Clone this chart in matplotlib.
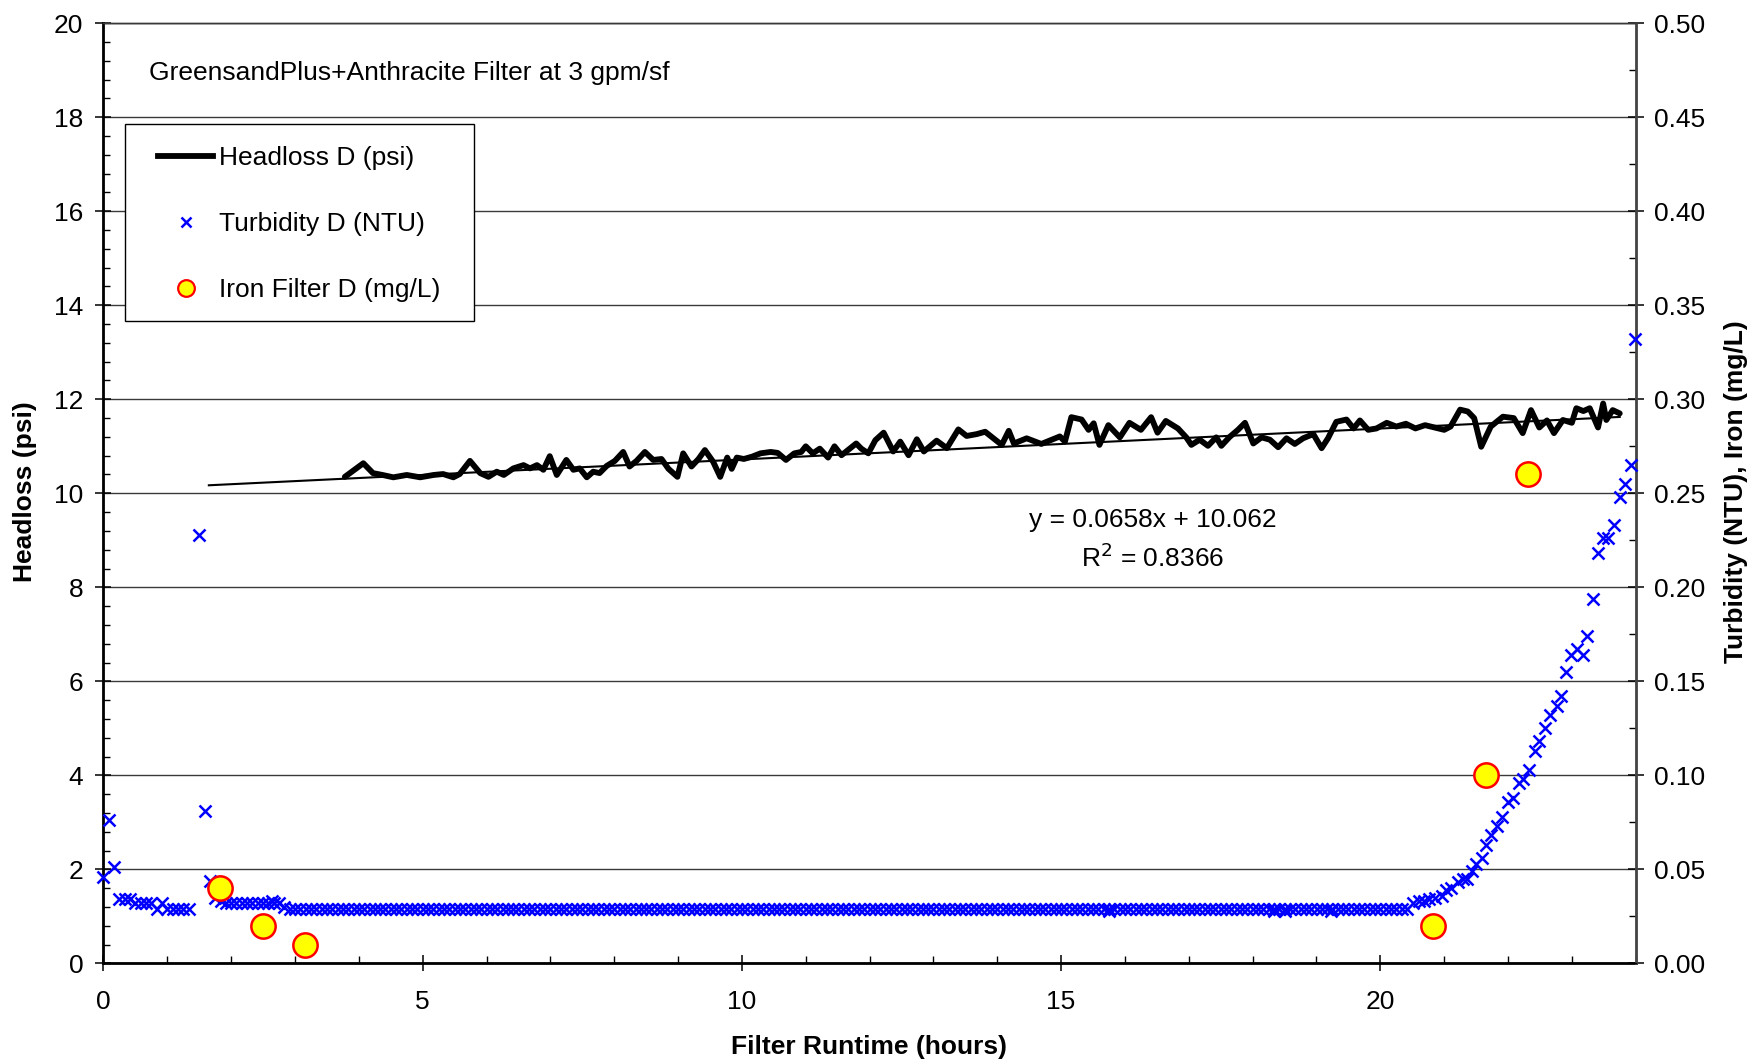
import numpy as np
import matplotlib
matplotlib.use("Agg")
import matplotlib.pyplot as plt
from matplotlib.ticker import MultipleLocator, FormatStrFormatter
from matplotlib.lines import Line2D
from matplotlib.patches import Rectangle

plt.rcParams['font.family'] = ['Liberation Sans', 'DejaVu Sans']

# ---------------- data ----------------
# Headloss D (psi) vs filter runtime (hours)
headloss_t = [3.78, 4.07, 4.22, 4.37, 4.54, 4.75, 4.96, 5.17, 5.32, 5.48, 5.58, 5.74, 5.90, 6.03,
              6.16, 6.27, 6.42, 6.58, 6.68, 6.79, 6.89, 6.99, 7.10, 7.25, 7.36, 7.46, 7.57, 7.67,
              7.77, 7.88, 8.01, 8.14, 8.24, 8.35, 8.48, 8.61, 8.74, 8.85, 8.99, 9.08, 9.21, 9.32,
              9.42, 9.55, 9.66, 9.77, 9.84, 9.92, 10.03, 10.16, 10.29, 10.45, 10.56, 10.69, 10.82,
              10.93, 11.00, 11.11, 11.22, 11.35, 11.45, 11.56, 11.69, 11.79, 11.87, 11.98, 12.09,
              12.22, 12.37, 12.48, 12.61, 12.74, 12.85, 13.05, 13.21, 13.39, 13.52, 13.68, 13.81,
              13.94, 14.07, 14.18, 14.26, 14.46, 14.69, 14.98, 15.06, 15.16, 15.32, 15.43, 15.51,
              15.60, 15.74, 15.92, 16.07, 16.25, 16.41, 16.51, 16.64, 16.83, 16.96, 17.04, 17.17,
              17.30, 17.43, 17.51, 17.64, 17.77, 17.88, 18.01, 18.14, 18.27, 18.40, 18.53, 18.66,
              18.79, 18.95, 19.08, 19.18, 19.31, 19.47, 19.58, 19.68, 19.81, 19.94, 20.10, 20.25,
              20.40, 20.55, 20.70, 20.85, 21.00, 21.10, 21.25, 21.37, 21.47, 21.58, 21.73, 21.92,
              22.09, 22.23, 22.36, 22.49, 22.61, 22.72, 22.86, 23.00, 23.07, 23.18, 23.28, 23.41,
              23.49, 23.54, 23.64, 23.75]
headloss_v = [10.35, 10.64, 10.43, 10.39, 10.34, 10.39, 10.34, 10.39, 10.41, 10.34, 10.41, 10.69, 10.43, 10.35,
              10.46, 10.39, 10.53, 10.60, 10.53, 10.60, 10.50, 10.79, 10.39, 10.71, 10.50, 10.53, 10.34, 10.46,
              10.43, 10.58, 10.69, 10.88, 10.57, 10.69, 10.88, 10.71, 10.73, 10.52, 10.35, 10.85, 10.57, 10.73,
              10.92, 10.67, 10.35, 10.76, 10.52, 10.76, 10.73, 10.78, 10.85, 10.88, 10.86, 10.71, 10.85,
              10.88, 11.00, 10.85, 10.95, 10.76, 11.00, 10.81, 10.95, 11.06, 10.95, 10.85, 11.13,
              11.29, 10.89, 11.10, 10.81, 11.15, 10.89, 11.12, 10.96, 11.36, 11.22, 11.26, 11.31,
              11.17, 11.03, 11.33, 11.06, 11.17, 11.05, 11.21, 11.10, 11.62, 11.57, 11.35, 11.49,
              11.03, 11.45, 11.19, 11.50, 11.35, 11.62, 11.29, 11.54, 11.38, 11.19, 11.03, 11.14,
              11.01, 11.19, 11.01, 11.20, 11.35, 11.50, 11.06, 11.19, 11.14, 10.98, 11.17, 11.05,
              11.17, 11.26, 10.96, 11.17, 11.52, 11.57, 11.38, 11.55, 11.35, 11.38, 11.50, 11.42,
              11.48, 11.38, 11.45, 11.40, 11.35, 11.42, 11.78, 11.74, 11.60, 10.99, 11.42, 11.63,
              11.60, 11.28, 11.77, 11.40, 11.55, 11.28, 11.56, 11.50, 11.81, 11.75, 11.81, 11.40,
              11.91, 11.56, 11.77, 11.70]

# Linear trendline of headloss (from the chart's equation)
trend_slope = 0.0658
trend_intercept = 10.062
trend_range = [1.65, 23.75]

# Turbidity D (NTU), logged every 5 minutes
log_interval_h = 5 / 60
turb_start_t = [0.000, 0.083, 0.167, 0.250, 0.333, 0.417, 0.500, 0.583, 0.667, 0.750, 0.833, 0.917,
                1.000, 1.083, 1.167, 1.250, 1.333,
                1.500, 1.583, 1.667, 1.750, 1.833, 1.917, 2.000, 2.083, 2.167, 2.250, 2.333, 2.417,
                2.500, 2.583, 2.640, 2.667, 2.750, 2.833]
turb_start_v = [0.046, 0.076, 0.051, 0.034, 0.034, 0.034, 0.032, 0.032, 0.032, 0.032, 0.029, 0.032,
                0.029, 0.029, 0.029, 0.029, 0.029,
                0.228, 0.081, 0.044, 0.035, 0.033, 0.032, 0.032, 0.032, 0.032, 0.032, 0.032, 0.032,
                0.032, 0.032, 0.033, 0.032, 0.032, 0.030]
turb_flat_from = 2.917
turb_flat_to = 20.43
turb_flat_level = 0.029
turb_low_t = [15.75, 18.33, 18.50, 19.23]
turb_low_v = [0.028, 0.028, 0.028, 0.028]
turb_rise_t = [20.51, 20.60, 20.69, 20.77, 20.85, 20.96, 21.03, 21.11, 21.22, 21.29, 21.36, 21.43,
               21.50, 21.59, 21.66, 21.74, 21.82, 21.90, 22.00, 22.08, 22.17, 22.23, 22.33, 22.42,
               22.49, 22.58, 22.66, 22.76, 22.83, 22.91, 22.99, 23.08, 23.17, 23.24, 23.33, 23.41,
               23.49, 23.56, 23.66, 23.75, 23.83, 23.92, 23.99]
turb_rise_v = [0.032, 0.033, 0.033, 0.034, 0.035, 0.036, 0.039, 0.040, 0.043, 0.045, 0.045, 0.049,
               0.053, 0.056, 0.063, 0.068, 0.073, 0.078, 0.086, 0.088, 0.096, 0.098, 0.103, 0.113,
               0.118, 0.125, 0.132, 0.137, 0.142, 0.155, 0.164, 0.167, 0.164, 0.174, 0.194, 0.218,
               0.226, 0.226, 0.233, 0.248, 0.255, 0.265, 0.332]

# Iron Filter D (mg/L)
iron_t = [1.82, 2.50, 3.16, 20.82, 21.66, 22.32]
iron_v = [0.04, 0.02, 0.01, 0.02, 0.10, 0.26]

title_text = "GreensandPlus+Anthracite Filter at 3 gpm/sf"
x_label = "Filter Runtime (hours)"
y_label_left = "Headloss (psi)"
y_label_right = "Turbidity (NTU), Iron (mg/L)"
legend_labels = ["Headloss D (psi)", "Turbidity D (NTU)", "Iron Filter D (mg/L)"]

# ---------------- assemble ----------------
flat_t = np.arange(turb_flat_from, turb_flat_to, log_interval_h)
flat_v = np.full(flat_t.shape, turb_flat_level)
turb_t = np.concatenate([turb_start_t, flat_t, turb_low_t, turb_rise_t])
turb_v = np.concatenate([turb_start_v, flat_v, turb_low_v, turb_rise_v])

# ---------------- figure ----------------
W, H = 1765, 1063
fig = plt.figure(figsize=(W / 100, H / 100), dpi=100)
x0, x1 = 103.5, 1635.7
ytop, ybot = 23.3, 963.3
ax = fig.add_axes([x0 / W, 1 - ybot / H, (x1 - x0) / W, (ybot - ytop) / H])
ax2 = ax.twinx()

FS = 19
ax.set_xlim(0, 24)
ax.set_ylim(0, 20)
ax2.set_ylim(0, 0.5)

ax.xaxis.set_major_locator(MultipleLocator(5))
ax.xaxis.set_minor_locator(MultipleLocator(1))
ax.yaxis.set_major_locator(MultipleLocator(2))
ax.yaxis.set_minor_locator(MultipleLocator(0.4))
ax2.yaxis.set_major_locator(MultipleLocator(0.05))
ax2.yaxis.set_minor_locator(MultipleLocator(0.025))
ax2.yaxis.set_major_formatter(FormatStrFormatter('%.2f'))

ax.tick_params(axis='y', which='major', direction='inout', length=11, width=1.1,
               labelsize=FS, pad=9, right=False)
ax.tick_params(axis='y', which='minor', direction='in', length=5, width=1.0, right=False)
ax.tick_params(axis='x', which='major', direction='inout', length=11, width=1.1,
               labelsize=FS, pad=14, top=False)
ax.tick_params(axis='x', which='minor', direction='in', length=5, width=1.0, top=False)
ax2.tick_params(axis='y', which='major', direction='inout', length=11, width=1.1,
                labelsize=FS, pad=8, left=False)
ax2.tick_params(axis='y', which='minor', direction='in', length=5, width=1.0, left=False)

ax.set_axisbelow(True)
ax.yaxis.grid(True, which='major', color='#3a3a3a', lw=1.0)

for sp in ['left', 'bottom']:
    ax.spines[sp].set_linewidth(2.0)
    ax.spines[sp].set_color('black')
ax2.spines['right'].set_linewidth(2.0)
ax2.spines['right'].set_color('#444444')
for a in (ax, ax2):
    a.spines['top'].set_linewidth(1.0)
    a.spines['top'].set_color('#3a3a3a')

# headloss
ax.plot(headloss_t, headloss_v, color='black', lw=4.2, solid_joinstyle='round',
        solid_capstyle='round', zorder=3)
tx = np.array(trend_range)
ax.plot(tx, trend_slope * tx + trend_intercept, color='black', lw=1.5, zorder=4)

# turbidity & iron
ax2.plot(turb_t, turb_v, linestyle='none', marker='x', color='#0000ff', ms=8, mew=1.8,
         zorder=3, clip_on=False)
ax2.plot(iron_t, iron_v, linestyle='none', marker='o', mfc='#ffff00', mec='#ff0000', ms=17.5,
         mew=1.8, zorder=4, clip_on=False)

# text
ax.text(0.71, 18.95, title_text, fontsize=FS, ha='left', va='center')
ax.text(16.43, 9.43, "y = 0.0658x + 10.062", fontsize=FS, ha='center', va='center')
ax.text(16.43, 8.62, "R$^2$ = 0.8366", fontsize=FS, ha='center', va='center')

fig.text(25 / W, 1 - 492 / H, y_label_left, rotation=90, ha='center', va='center',
         fontsize=FS, fontweight='bold')
fig.text(1736 / W, 1 - 492 / H, y_label_right, rotation=90, ha='center', va='center',
         fontsize=FS, fontweight='bold')
fig.text(869 / W, 1 - 1047 / H, x_label, ha='center', va='center',
         fontsize=FS, fontweight='bold')

# legend (frame drawn separately to match its exact box)
frame = Rectangle((125 / W, 1 - 321 / H), (474 - 125) / W, (321 - 124) / H,
                  transform=fig.transFigure, facecolor='white', edgecolor='black',
                  lw=1.0, zorder=9, clip_on=False)
ax2.add_patch(frame)
handles = [Line2D([], [], color='black', lw=4.2),
           Line2D([], [], linestyle='none', marker='x', color='#0000ff', ms=7, mew=1.8),
           Line2D([], [], linestyle='none', marker='o', mfc='#ffff00', mec='#ff0000', ms=12, mew=1.6)]
leg = ax2.legend(handles, legend_labels, loc='upper left',
                 bbox_to_anchor=(158 / W, 1 - 146 / H),
                 bbox_transform=fig.transFigure, borderaxespad=0, borderpad=0,
                 fontsize=FS, frameon=False,
                 labelspacing=1.6, handlelength=2.1, handletextpad=0.2)
leg.set_zorder(10)

fig.savefig("out.png", dpi=100)
